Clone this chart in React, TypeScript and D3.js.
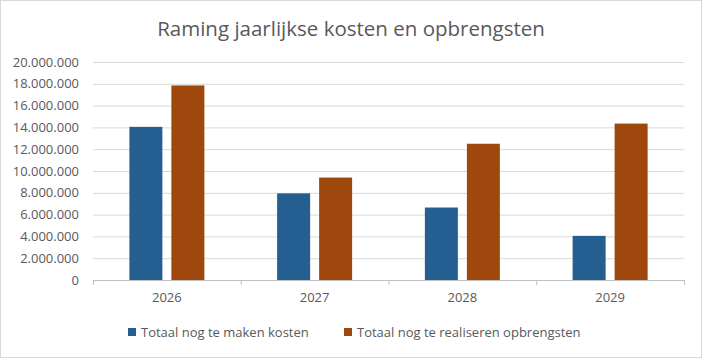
import React from "react";
import * as d3 from "d3";

const years = ["2026", "2027", "2028", "2029"];
const kosten = [14050000, 7950000, 6650000, 4050000];
const opbrengsten = [17850000, 9400000, 12500000, 14350000];
const seriesNames = ["Totaal nog te maken kosten", "Totaal nog te realiseren opbrengsten"];
const seriesColors = ["#255E91", "#9E480E"];
const yTicks = [0, 2000000, 4000000, 6000000, 8000000, 10000000, 12000000, 14000000, 16000000, 18000000, 20000000];

const W = 702;
const H = 358;
const FONT = "'Open Sans', Lato, sans-serif";

const fmt = (v: number) => (v === 0 ? "0" : d3.format(",")(v).replace(/,/g, "."));

export default function App() {
  const plot = { left: 93, right: 684, top: 62, bottom: 280 };

  const x = d3.scaleBand<string>().domain(years).range([plot.left, plot.right]);
  const y = d3.scaleLinear().domain([0, 20000000]).range([plot.bottom, plot.top]);

  const barW = 33;
  const gap = 9;
  const groupW = barW * 2 + gap;
  const series = [kosten, opbrengsten];

  return (
    <svg
      width={W}
      height={H}
      style={{ position: "absolute", left: 0, top: 0, background: "#fff" }}
      fontFamily={FONT}
    >
      <rect x={0.5} y={0.5} width={W - 1} height={H - 1} fill="#fff" stroke="#d9d9d9" />
      <text x={W / 2} y={36} textAnchor="middle" fontSize={20.5} fill="#595959">
        Raming jaarlijkse kosten en opbrengsten
      </text>

      {yTicks.map((t) => (
        <g key={t}>
          {t > 0 && (
            <line x1={plot.left} x2={plot.right} y1={y(t) + 0.5} y2={y(t) + 0.5} stroke="#d9d9d9" />
          )}
          <text x={79} y={y(t)} dy="0.35em" textAnchor="end" fontSize={13} fill="#595959">
            {fmt(t)}
          </text>
        </g>
      ))}

      {series.map((vals, si) =>
        years.map((yr, i) => {
          const x0 = (x(yr) as number) + (x.bandwidth() - groupW) / 2 + si * (barW + gap);
          return (
            <rect
              key={si + "-" + yr}
              x={x0}
              y={y(vals[i])}
              width={barW}
              height={y(0) - y(vals[i])}
              fill={seriesColors[si]}
            />
          );
        })
      )}

      <line x1={plot.left} x2={plot.right} y1={plot.bottom + 0.5} y2={plot.bottom + 0.5} stroke="#bfbfbf" />
      {[...years.map((yr) => x(yr) as number), plot.right].map((tx, i) => (
        <line key={i} x1={tx + 0.5} x2={tx + 0.5} y1={plot.bottom} y2={plot.bottom + 5} stroke="#bfbfbf" />
      ))}
      {years.map((yr) => (
        <text
          key={yr}
          x={(x(yr) as number) + x.bandwidth() / 2}
          y={302}
          textAnchor="middle"
          fontSize={13}
          fill="#595959"
        >
          {yr}
        </text>
      ))}

      {seriesNames.map((name, i) => {
        const lx = [128, 344][i];
        return (
          <g key={name}>
            <rect x={lx} y={328} width={8} height={8} fill={seriesColors[i]} />
            <text x={lx + 13} y={337} fontSize={13} fill="#595959">
              {name}
            </text>
          </g>
        );
      })}
    </svg>
  );
}
